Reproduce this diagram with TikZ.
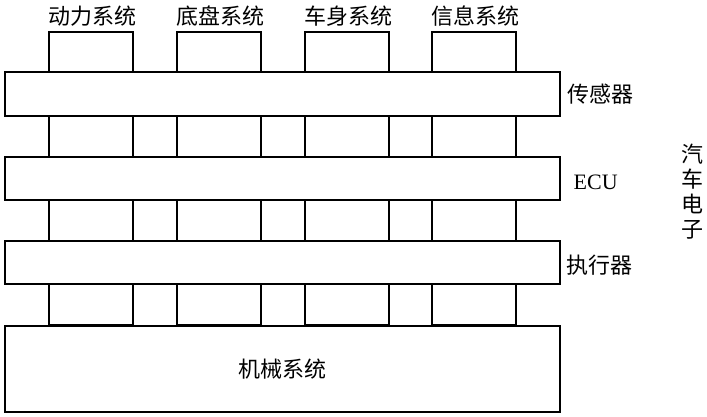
\documentclass[tikz,border=0pt]{standalone}
\usepackage{fontspec}
\setmainfont{Liberation Serif}
\newfontfamily\cjk{Noto Sans CJK SC}
\begin{document}
\begin{tikzpicture}[x=1pt,y=-1pt,line width=1.4pt,
  colbox/.style={draw,fill=white,minimum width=84pt,minimum height=293pt,inner sep=0pt},
  bar/.style={draw,fill=white,minimum width=555pt,inner sep=0pt},
  lbl/.style={font=\cjk\fontsize{22}{25}\selectfont,inner sep=0pt}]
\useasboundingbox (0,0) rectangle (707,416);
% column boxes
\node[colbox] (c1) at (91,178.5) {};
\node[colbox] (c2) at (219,178.5) {};
\node[colbox] (c3) at (347,178.5) {};
\node[colbox] (c4) at (474,178.5) {};
% bars
\node[bar,minimum height=44pt] (sen) at (282.5,94) {};
\node[bar,minimum height=43pt] (ecu) at (282.5,178.5) {};
\node[bar,minimum height=43pt] (act) at (282.5,262.5) {};
\node[bar,minimum height=86pt,font=\cjk\fontsize{22}{25}\selectfont] (mech) at (282.5,369) {机械系统};
% top labels
\node[lbl] (t1) at (92,16) {动力系统};
\node[lbl] (t2) at (220,16) {底盘系统};
\node[lbl] (t3) at (348,16) {车身系统};
\node[lbl] (t4) at (475,16) {信息系统};
% right labels
\node[lbl,anchor=west] (lsen) at (567,94) {传感器};
\node[anchor=west,inner sep=0pt,font=\fontsize{22}{25}\selectfont] (lecu) at (573,182) {ECU};
\node[lbl,anchor=west] (lact) at (566,265) {执行器};
\node[lbl,align=center] (auto) at (692,192) {汽\\车\\电\\子};
\end{tikzpicture}
\end{document}
